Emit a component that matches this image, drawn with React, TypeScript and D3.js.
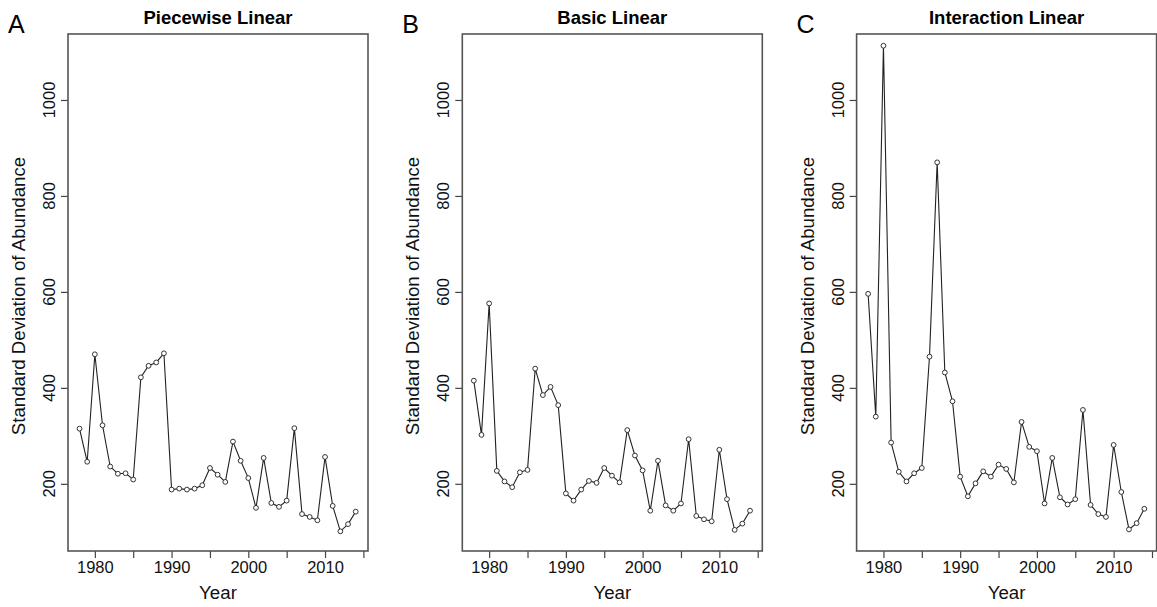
import React, { useEffect, useRef } from 'react';
import * as d3 from 'd3';

const years = d3.range(1978, 2015);

const piecewise = [315, 246, 470, 322, 236, 221, 222, 209, 422, 446, 453, 472, 188, 190, 188, 190, 197, 233, 219, 204, 288, 248, 212, 150, 254, 160, 152, 165, 316, 137, 131, 124, 256, 154, 101, 116, 142];
const basic = [415, 302, 576, 227, 205, 193, 224, 229, 440, 385, 402, 364, 180, 165, 188, 206, 202, 233, 217, 203, 312, 259, 228, 144, 248, 155, 144, 159, 293, 133, 126, 122, 271, 168, 104, 117, 144];
const interaction = [596, 340, 1113, 286, 225, 205, 222, 233, 465, 870, 432, 372, 215, 174, 201, 226, 215, 240, 231, 203, 329, 277, 268, 159, 254, 172, 157, 168, 354, 156, 137, 131, 281, 183, 105, 118, 148];

const panelLetters = ['A', 'B', 'C'];
const panelTitles = ['Piecewise Linear', 'Basic Linear', 'Interaction Linear'];
const panelSeries = [piecewise, basic, interaction];

const xTicks = [1980, 1985, 1990, 1995, 2000, 2005, 2010, 2015];
const yTicks = [200, 400, 600, 800, 1000];

const FONT = '"Liberation Sans", Arial, Helvetica, sans-serif';

const App: React.FC = () => {
  const svgRef = useRef<SVGSVGElement>(null);

  useEffect(() => {
    if (!svgRef.current) return;
    const svg = d3.select(svgRef.current);
    svg.selectAll('*').remove();

    const boxW = 300;
    const boxTop = 34;
    const boxBottom = 551;
    const step = 394.3;

    const x = d3.scaleLinear().domain([1976.5, 2015.6]).range([0, boxW]);
    const y = d3.scaleLinear().domain([60, 1137.5]).range([boxBottom, boxTop]);

    panelSeries.forEach((series, i) => {
      const g = svg.append('g').attr('transform', `translate(${68 + i * step},0)`);

      // panel letter
      g.append('text')
        .attr('x', -60)
        .attr('y', 33)
        .attr('font-size', 25)
        .attr('font-family', FONT)
        .text(panelLetters[i]);

      // title
      g.append('text')
        .attr('x', boxW / 2)
        .attr('y', 24)
        .attr('text-anchor', 'middle')
        .attr('font-size', 18.5)
        .attr('font-weight', 'bold')
        .attr('font-family', FONT)
        .text(panelTitles[i]);

      // x axis
      const xa = g.append('g')
        .attr('transform', `translate(0,${boxBottom})`)
        .call(d3.axisBottom(x)
          .tickValues(xTicks)
          .tickSize(7)
          .tickPadding(3)
          .tickFormat(d => (+d % 10 === 0 ? String(d) : '')));
      xa.select('.domain').remove();
      xa.selectAll('line').attr('stroke', '#444').attr('stroke-width', 1.2);
      xa.selectAll('text')
        .attr('font-size', 16.5)
        .attr('font-family', FONT)
        .attr('fill', '#111');

      // y axis ticks
      const ya = g.append('g')
        .call(d3.axisLeft(y).tickValues(yTicks).tickSize(7).tickFormat(() => ''));
      ya.select('.domain').remove();
      ya.selectAll('line').attr('stroke', '#444').attr('stroke-width', 1.2);

      g.selectAll('.ylab')
        .data(yTicks)
        .enter()
        .append('text')
        .attr('transform', d => `translate(-13,${y(d)}) rotate(-90)`)
        .attr('text-anchor', 'middle')
        .attr('font-size', 16.5)
        .attr('font-family', FONT)
        .attr('fill', '#111')
        .text(d => d);

      // axis titles
      g.append('text')
        .attr('x', boxW / 2)
        .attr('y', 599)
        .attr('text-anchor', 'middle')
        .attr('font-size', 18.7)
        .attr('font-family', FONT)
        .attr('fill', '#111')
        .text('Year');

      g.append('text')
        .attr('transform', `translate(-43,296) rotate(-90)`)
        .attr('text-anchor', 'middle')
        .attr('font-size', 18.7)
        .attr('font-family', FONT)
        .attr('fill', '#111')
        .text('Standard Deviation of Abundance');

      // box
      g.append('rect')
        .attr('x', 0)
        .attr('y', boxTop)
        .attr('width', boxW)
        .attr('height', boxBottom - boxTop)
        .attr('fill', 'none')
        .attr('stroke', '#555')
        .attr('stroke-width', 1.6);

      const data = years.map((yr, k) => ({ yr, v: series[k] }));

      const line = d3.line<{ yr: number; v: number }>()
        .x(d => x(d.yr))
        .y(d => y(d.v));

      g.append('path')
        .datum(data)
        .attr('fill', 'none')
        .attr('stroke', '#222')
        .attr('stroke-width', 1.1)
        .attr('d', line);

      g.selectAll('.pt')
        .data(data)
        .enter()
        .append('circle')
        .attr('cx', d => x(d.yr))
        .attr('cy', d => y(d.v))
        .attr('r', 2.4)
        .attr('fill', 'white')
        .attr('stroke', '#333')
        .attr('stroke-width', 1);
    });
  }, []);

  return (
    <div>
      <style>{'body{margin:0;background:#fff;}'}</style>
      <svg ref={svgRef} width={1157} height={607} style={{ display: 'block' }} />
    </div>
  );
};

export default App;
